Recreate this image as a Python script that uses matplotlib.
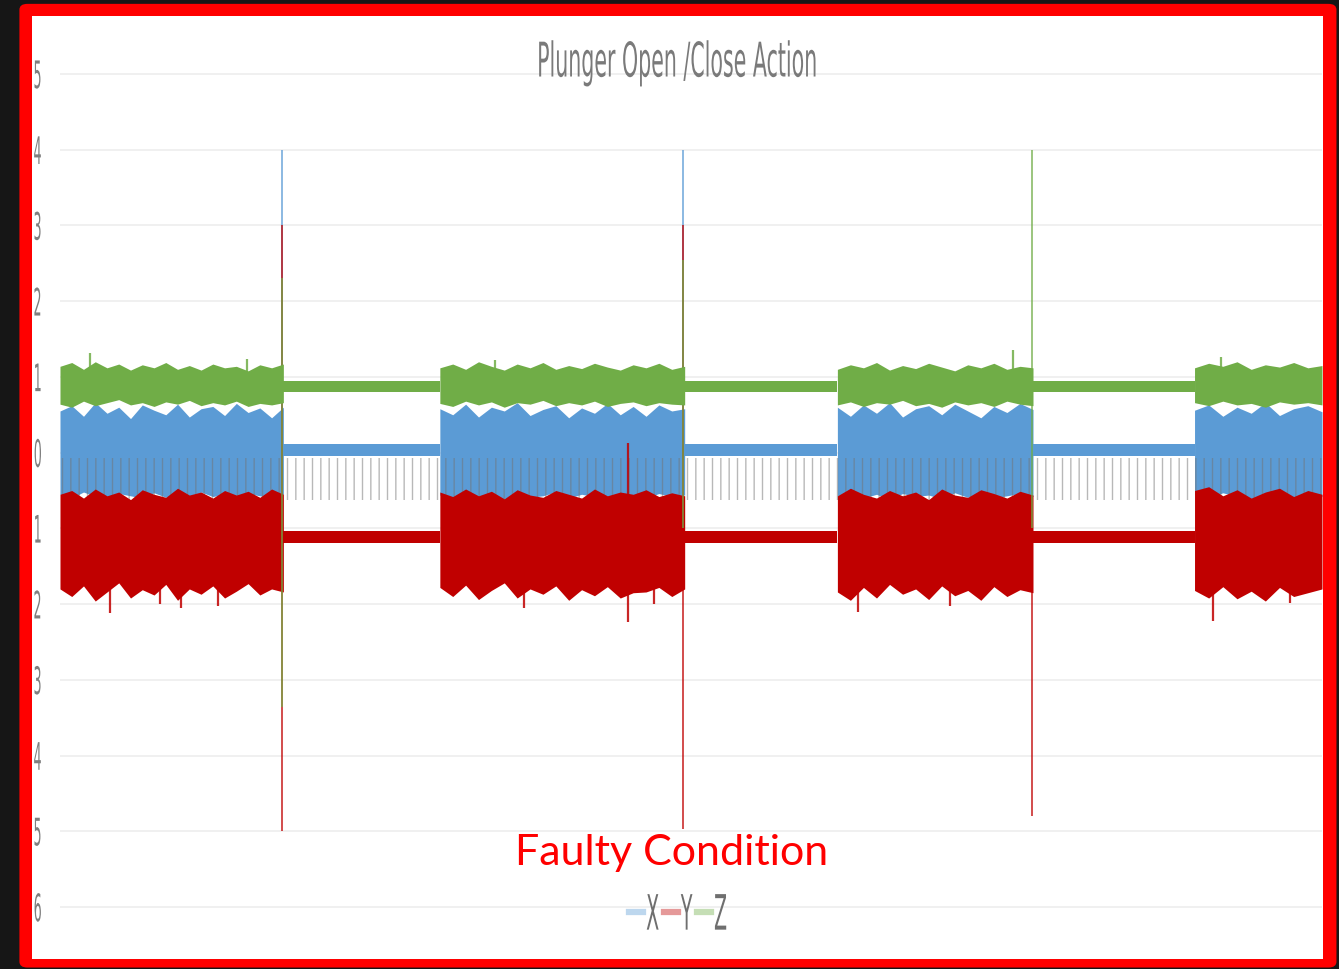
import matplotlib.pyplot as plt
import numpy as np
from matplotlib.lines import Line2D
from matplotlib.patches import FancyBboxPatch, Rectangle
from matplotlib.patheffects import AbstractPathEffect
from matplotlib.transforms import Affine2D

# time axis (arbitrary sample units), plunger moving = noisy, resting = quiet
active_start = [0.0, 30.1, 61.6, 89.9]
active_end = [17.7, 49.5, 77.1, 100.0]
idle_start = [17.7, 49.5, 77.1]
idle_end = [30.1, 61.6, 89.9]

# X (blue) envelope while moving
x_top = [
    [0.55, 0.62, 0.48, 0.66, 0.52, 0.60, 0.45, 0.63, 0.56, 0.50, 0.64, 0.47, 0.58, 0.61, 0.49, 0.65, 0.53, 0.59, 0.46, 0.60],
    [0.58, 0.50, 0.64, 0.47, 0.60, 0.55, 0.66, 0.49, 0.57, 0.62, 0.46, 0.59, 0.52, 0.65, 0.50, 0.61, 0.48, 0.63, 0.55, 0.58],
    [0.60, 0.48, 0.63, 0.52, 0.66, 0.47, 0.58, 0.62, 0.50, 0.64, 0.55, 0.46, 0.61, 0.53, 0.65, 0.57],
    [0.56, 0.63, 0.48, 0.60, 0.52, 0.66, 0.49, 0.58, 0.62, 0.54],
]
x_bot = [
    [-0.55, -0.60, -0.52, -0.58, -0.62, -0.54, -0.57, -0.60, -0.53, -0.59, -0.56, -0.61, -0.52, -0.58, -0.55, -0.60, -0.54, -0.57, -0.59, -0.55],
    [-0.56, -0.61, -0.53, -0.58, -0.55, -0.62, -0.54, -0.59, -0.57, -0.52, -0.60, -0.55, -0.58, -0.61, -0.53, -0.57, -0.60, -0.54, -0.58, -0.56],
    [-0.57, -0.53, -0.60, -0.55, -0.62, -0.54, -0.58, -0.56, -0.61, -0.53, -0.59, -0.55, -0.60, -0.57, -0.54, -0.58],
    [-0.55, -0.60, -0.53, -0.58, -0.61, -0.54, -0.57, -0.59, -0.55, -0.58],
]
# Y (red) envelope while moving
y_top = [
    [-0.55, -0.50, -0.60, -0.48, -0.57, -0.52, -0.62, -0.49, -0.55, -0.59, -0.47, -0.56, -0.52, -0.60, -0.50, -0.56, -0.51, -0.59, -0.48, -0.55],
    [-0.52, -0.58, -0.48, -0.57, -0.51, -0.61, -0.49, -0.56, -0.59, -0.50, -0.55, -0.60, -0.48, -0.57, -0.52, -0.55, -0.49, -0.58, -0.53, -0.57],
    [-0.57, -0.47, -0.55, -0.60, -0.50, -0.57, -0.52, -0.62, -0.48, -0.56, -0.59, -0.49, -0.54, -0.60, -0.51, -0.56],
    [-0.50, -0.45, -0.57, -0.49, -0.60, -0.52, -0.47, -0.58, -0.50, -0.55],
]
y_bot = [
    [-1.80, -1.90, -1.76, -1.96, -1.84, -1.72, -1.92, -1.81, -1.88, -1.74, -1.95, -1.80, -1.87, -1.76, -1.92, -1.83, -1.73, -1.88, -1.80, -1.84],
    [-1.78, -1.90, -1.75, -1.94, -1.82, -1.72, -1.92, -1.80, -1.87, -1.76, -1.95, -1.81, -1.89, -1.77, -1.92, -1.85, -1.84, -1.78, -1.90, -1.80],
    [-1.84, -1.95, -1.78, -1.92, -1.74, -1.87, -1.80, -1.94, -1.76, -1.89, -1.82, -1.95, -1.77, -1.90, -1.81, -1.85],
    [-1.82, -1.92, -1.77, -1.93, -1.83, -1.96, -1.78, -1.90, -1.85, -1.80],
]
# Z (green) envelope while moving
z_top = [
    [1.14, 1.19, 1.10, 1.20, 1.12, 1.17, 1.09, 1.16, 1.12, 1.19, 1.10, 1.15, 1.09, 1.17, 1.12, 1.14, 1.08, 1.16, 1.12, 1.17],
    [1.12, 1.17, 1.10, 1.20, 1.14, 1.09, 1.17, 1.12, 1.19, 1.10, 1.15, 1.11, 1.18, 1.13, 1.09, 1.16, 1.12, 1.18, 1.10, 1.14],
    [1.10, 1.16, 1.12, 1.19, 1.09, 1.15, 1.11, 1.18, 1.13, 1.08, 1.16, 1.12, 1.18, 1.10, 1.14, 1.12],
    [1.12, 1.18, 1.14, 1.20, 1.10, 1.16, 1.13, 1.19, 1.12, 1.15],
]
z_bot = [
    [0.64, 0.60, 0.68, 0.62, 0.66, 0.70, 0.63, 0.66, 0.61, 0.67, 0.64, 0.69, 0.62, 0.66, 0.63, 0.68, 0.61, 0.65, 0.63, 0.66],
    [0.65, 0.61, 0.68, 0.63, 0.67, 0.60, 0.66, 0.64, 0.69, 0.62, 0.66, 0.63, 0.68, 0.61, 0.65, 0.67, 0.62, 0.66, 0.64, 0.63],
    [0.63, 0.67, 0.61, 0.66, 0.64, 0.69, 0.62, 0.65, 0.60, 0.67, 0.63, 0.66, 0.61, 0.68, 0.64, 0.62],
    [0.66, 0.62, 0.68, 0.63, 0.65, 0.60, 0.67, 0.64, 0.66, 0.63],
]

# single noise peaks sticking out of the bands
y_peak_t = [4.0, 7.9, 12.5, 9.6, 36.8, 45.0, 47.1, 63.2, 70.5, 91.4, 97.5]
y_peak_hi = [-1.7, -1.7, -1.7, -1.7, -1.7, 0.13, -1.7, -1.7, -1.7, -1.7, -1.7]
y_peak_lo = [-2.12, -2.0, -2.02, -2.05, -2.05, -2.24, -2.0, -2.1, -2.03, -2.22, -1.98]
z_peak_t = [2.4, 14.8, 34.5, 75.5, 92.0]
z_peak_hi = [1.32, 1.24, 1.22, 1.35, 1.26]
z_peak_lo = [0.9, 0.9, 0.9, 0.9, 0.9]

# quiet bands while resting (one value per rest period)
x_idle_top = [0.12, 0.12, 0.12]
x_idle_bot = [-0.04, -0.04, -0.04]
y_idle_top = [-1.03, -1.03, -1.03]
y_idle_bot = [-1.19, -1.19, -1.19]
z_idle_top = [0.95, 0.95, 0.95]
z_idle_bot = [0.80, 0.80, 0.80]
grey_top = -0.07
grey_bot = -0.63

# open/close impacts
x_spike_t = [17.6, 49.4]
x_spike_hi = [4.0, 4.0]
x_spike_lo = [-0.6, -0.6]
y_spike_t = [17.6, 49.4, 77.0]
y_spike_hi = [3.0, 3.0, -1.0]
y_spike_lo = [-5.0, -4.97, -4.8]
z_spike_t = [17.6, 49.4, 77.0]
z_spike_hi = [2.3, 2.55, 4.0]
z_spike_lo = [-3.36, -1.0, -1.0]

y_ticks = [5, 4, 3, 2, 1, 0, -1, -2, -3, -4, -5, -6]
y_tick_text = ["5", "4", "3", "2", "1", "0", "1", "2", "3", "4", "5", "6"]

blue = "#5b9bd5"
red = "#c00000"
green = "#70ad47"


class Stretch(AbstractPathEffect):
    # the source image is squashed sideways, so scale glyphs about their centre
    def __init__(self, sx, sy):
        super().__init__()
        self.sx = sx
        self.sy = sy

    def draw_path(self, renderer, gc, tpath, affine, rgbFace=None):
        ext = tpath.get_extents(affine)
        cx = (ext.x0 + ext.x1) / 2
        cy = (ext.y0 + ext.y1) / 2
        tr = affine + Affine2D().translate(-cx, -cy).scale(self.sx, self.sy).translate(cx, cy)
        renderer.draw_path(gc, tpath, tr, rgbFace)


fig = plt.figure(figsize=(13.39, 9.70), dpi=100, facecolor="#161616")

# red frame and white card behind the chart
fig.patches.append(FancyBboxPatch((0.0145, 0.0015), 0.9836, 0.9935,
                                  boxstyle="round,pad=0,rounding_size=0.006",
                                  transform=fig.transFigure, facecolor="#ff0000",
                                  edgecolor="none", zorder=-2))
fig.patches.append(Rectangle((0.0239, 0.0103), 0.9642, 0.9722, transform=fig.transFigure,
                             facecolor="white", edgecolor="none", zorder=-1))

ax = fig.add_axes([0.0448, 0.0405, 0.9425, 0.9134])
ax.set_facecolor("none")
ax.set_xlim(0, 100)
ax.set_ylim(-6.3, 5.4)

# blue first, then red, then green on top (like the original series order)
for i in range(len(active_start)):
    t = np.linspace(active_start[i], active_end[i], len(x_top[i]))
    ax.fill_between(t, x_bot[i], x_top[i], color=blue, lw=0, zorder=2)
for i in range(len(idle_start)):
    ax.fill_between([idle_start[i], idle_end[i]], x_idle_bot[i], x_idle_top[i],
                    color=blue, lw=0, zorder=2)
ax.vlines(x_spike_t, x_spike_lo, x_spike_hi, color=blue, lw=1.4, alpha=0.7, zorder=2)

ax.fill_between([0, 100], grey_bot, grey_top, facecolor="none",
                edgecolor=(0.45, 0.45, 0.45, 0.5), hatch="||", lw=0, zorder=3)

for i in range(len(active_start)):
    t = np.linspace(active_start[i], active_end[i], len(y_top[i]))
    ax.fill_between(t, y_bot[i], y_top[i], color=red, lw=0, zorder=4)
for i in range(len(idle_start)):
    ax.fill_between([idle_start[i], idle_end[i]], y_idle_bot[i], y_idle_top[i],
                    color=red, lw=0, zorder=4)
ax.vlines(y_peak_t, y_peak_lo, y_peak_hi, color=red, lw=1.6, alpha=0.85, zorder=4)
ax.vlines(y_spike_t, y_spike_lo, y_spike_hi, color=red, lw=1.4, alpha=0.7, zorder=4)

for i in range(len(active_start)):
    t = np.linspace(active_start[i], active_end[i], len(z_top[i]))
    ax.fill_between(t, z_bot[i], z_top[i], color=green, lw=0, zorder=5)
for i in range(len(idle_start)):
    ax.fill_between([idle_start[i], idle_end[i]], z_idle_bot[i], z_idle_top[i],
                    color=green, lw=0, zorder=5)
ax.vlines(z_peak_t, z_peak_lo, z_peak_hi, color=green, lw=1.6, alpha=0.85, zorder=5)
ax.vlines(z_spike_t, z_spike_lo, z_spike_hi, color=green, lw=1.4, alpha=0.7, zorder=5)

ax.set_yticks(y_ticks)
ax.set_yticklabels(y_tick_text, fontsize=13, color="#7f7f7f")
for lab in ax.get_yticklabels():
    lab.set_path_effects([Stretch(0.7, 2.1)])
ax.tick_params(axis="y", length=0, pad=12)
ax.set_xticks([])
ax.grid(axis="y", color="#ededed", lw=1.2, zorder=0)
for s in ax.spines.values():
    s.set_visible(False)

title = fig.text(677 / 1339, 1 - 64 / 970, "Plunger Open /Close Action", ha="center", va="center",
                 fontsize=20, color="#7a7a7a")
title.set_path_effects([Stretch(0.74, 1.72)])
fig.text(672 / 1339, 1 - 853 / 970, "Faulty Condition", ha="center", va="center",
         family=["Lato", "DejaVu Sans"], fontsize=31, color="#ff0000")

handles = [Line2D([], [], color=c, lw=4.5, alpha=0.4) for c in (blue, red, green)]
leg = fig.legend(handles, ["X", "Y", "Z"], loc="center", bbox_to_anchor=(679 / 1339, 1 - 915 / 970),
                 ncol=3, frameon=False, handlelength=0.56, handletextpad=0.05, columnspacing=0.1,
                 prop={"size": 18}, labelcolor="#6f6f6f")
for txt in leg.get_texts():
    txt.set_path_effects([Stretch(0.76, 1.95)])

fig.savefig("out.png", dpi=100, facecolor=fig.get_facecolor())
